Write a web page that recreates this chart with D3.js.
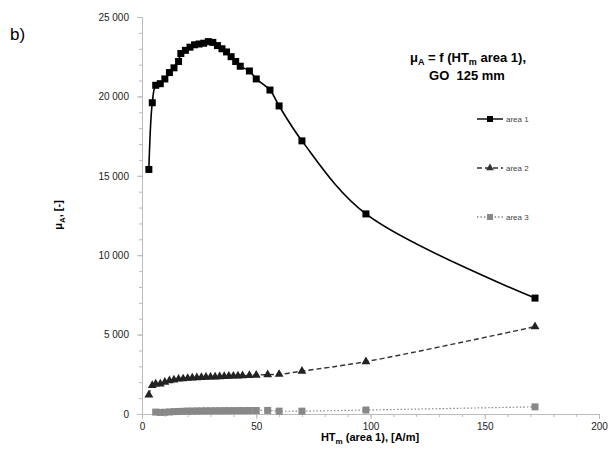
<!DOCTYPE html>
<html><head><meta charset="utf-8">
<script src="https://cdn.jsdelivr.net/npm/d3@7"></script>
<style>body{margin:0;background:#fff;font-family:"Liberation Sans",Arial,sans-serif}</style>
</head><body><svg width="612" height="459"></svg>
<script>
const area1X = [3,4.5,6,8,10,12,14,16,17,19,21,23,25,27,29,31,33,35,37,39,41,43,47,50,56,60,70,98,172];
const area1Y = [15400,19600,20700,20800,21100,21500,21800,22200,22700,22900,23100,23250,23300,23350,23450,23400,23200,23000,22800,22500,22200,21900,21600,21100,20400,19400,17200,12600,7300];
const area2X = [3,4.5,6,8,10,12,14,16,18,20,22,24,26,28,30,32,34,36,38,40,42,44,47,50,55,60,70,98,172];
const area2Y = [1200,1800,1900,1900,2000,2100,2150,2200,2220,2250,2270,2290,2300,2320,2330,2340,2350,2370,2380,2390,2400,2410,2430,2450,2480,2500,2700,3300,5500];
const area3X = [6,8,10,12,14,16,18,20,22,24,26,28,30,32,34,36,38,40,42,44,47,50,55,60,70,98,172];
const area3Y = [120,100,110,130,150,160,170,180,185,190,195,200,200,205,205,210,210,210,215,215,220,220,225,180,180,250,450];
const xTicks = [0,50,100,150,200];
const yTicks = [0,5000,10000,15000,20000,25000];

const svg = d3.select("svg");
const x = d3.scaleLinear().domain([0,200]).range([142,599]);
const y = d3.scaleLinear().domain([0,25000]).range([414,17]);
const fmt = v => d3.format(",")(v).replace(/,/g," ");
const ax = "#bbb";

// axes
const gx = svg.append("g").attr("transform","translate(0,414)")
  .call(d3.axisBottom(x).tickValues(xTicks).tickSize(5).tickPadding(4));
const gxm = svg.append("g").attr("transform","translate(0,414)")
  .call(d3.axisBottom(x).tickValues(d3.range(0,201,10)).tickSize(3).tickFormat(""));
const gy = svg.append("g").attr("transform","translate(142,0)")
  .call(d3.axisLeft(y).tickValues(yTicks).tickSize(5).tickPadding(8).tickFormat(fmt));
const gym = svg.append("g").attr("transform","translate(142,0)")
  .call(d3.axisLeft(y).tickValues(d3.range(0,25001,1000)).tickSize(3).tickFormat(""));
[gx,gxm,gy,gym].forEach(g=>{g.selectAll("path,line").attr("stroke",ax);
  g.selectAll("text").attr("font-size",10).attr("fill","#222");});

const line = d3.line().x(d=>x(d[0])).y(d=>y(d[1])).curve(d3.curveCatmullRom.alpha(0.5));
const d1 = d3.zip(area1X,area1Y), d2 = d3.zip(area2X,area2Y), d3a = d3.zip(area3X,area3Y);
svg.append("path").attr("d",line(d1)).attr("fill","none").attr("stroke","#000").attr("stroke-width",1.6);
svg.append("path").attr("d",line(d2)).attr("fill","none").attr("stroke","#333").attr("stroke-width",1.4).attr("stroke-dasharray","5,3");
svg.append("path").attr("d",line(d3a)).attr("fill","none").attr("stroke","#888").attr("stroke-width",1.2).attr("stroke-dasharray","1.5,2");

const tri = d3.symbol().type(d3.symbolTriangle).size(34);
svg.append("g").selectAll("rect").data(d1).join("rect")
  .attr("x",d=>x(d[0])-3.5).attr("y",d=>y(d[1])-3.5).attr("width",7).attr("height",7).attr("fill","#000");
svg.append("g").selectAll("path").data(d2).join("path").attr("d",tri)
  .attr("transform",d=>`translate(${x(d[0])},${y(d[1])})`).attr("fill","#222");
svg.append("g").selectAll("rect").data(d3a).join("rect")
  .attr("x",d=>x(d[0])-3.5).attr("y",d=>y(d[1])-3.5).attr("width",7).attr("height",7).attr("fill","#888");

// legend
const leg = [["area 1","#000",null,"sq"],["area 2","#333","5,3","tri"],["area 3","#888","1.5,2","sq"]];
leg.forEach((l,i)=>{
  const ly = 119 + i*49;
  svg.append("line").attr("x1",477).attr("x2",503).attr("y1",ly).attr("y2",ly)
    .attr("stroke",l[1]).attr("stroke-width",1.4).attr("stroke-dasharray",l[2]);
  if(l[3]==="sq") svg.append("rect").attr("x",487).attr("y",ly-3).attr("width",6).attr("height",6).attr("fill",l[1]);
  else svg.append("path").attr("d",d3.symbol().type(d3.symbolTriangle).size(26)).attr("transform",`translate(490,${ly})`).attr("fill",l[1]);
  svg.append("text").attr("x",506).attr("y",ly+3).attr("font-size",8).attr("fill","#444").text(l[0]);
});

// titles
const t = svg.append("text").attr("x",468).attr("y",62).attr("text-anchor","middle").attr("font-size",13).attr("font-weight","bold");
t.append("tspan").text("μ");
t.append("tspan").attr("font-size",9).attr("dy",3).text("A");
t.append("tspan").attr("dy",-3).text(" = f (HT");
t.append("tspan").attr("font-size",9).attr("dy",3).text("m");
t.append("tspan").attr("dy",-3).text(" area 1),");
svg.append("text").attr("x",467).attr("y",80).attr("text-anchor","middle").attr("font-size",13).attr("font-weight","bold").attr("xml:space","preserve").text("GO  125 mm");

const xt = svg.append("text").attr("x",370).attr("y",441).attr("text-anchor","middle").attr("font-size",11).attr("font-weight","bold");
xt.append("tspan").text("HT");
xt.append("tspan").attr("font-size",8).attr("dy",3).text("m");
xt.append("tspan").attr("dy",-3).text(" (area 1), [A/m]");

const yt = svg.append("text").attr("transform","translate(62,215) rotate(-90)").attr("text-anchor","middle").attr("font-size",11).attr("font-weight","bold");
yt.append("tspan").text("μ");
yt.append("tspan").attr("font-size",8).attr("dy",3).text("A");
yt.append("tspan").attr("dy",-3).text(", [-]");

svg.append("text").attr("x",10).attr("y",40).attr("font-size",17).text("b)");
</script></body></html>
